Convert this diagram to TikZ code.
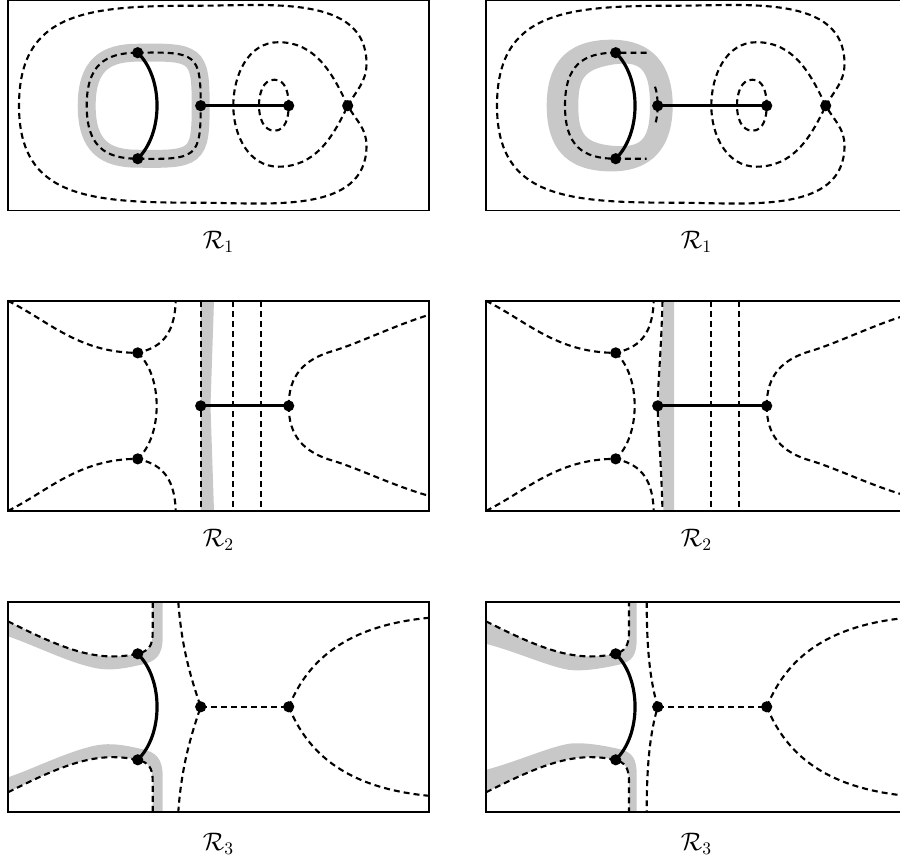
\documentclass[tikz,border=0pt]{standalone}
\usepackage{amsmath,amssymb}
\definecolor{bandgray}{RGB}{200,200,200}

\begin{document}
\begin{tikzpicture}[x=0.02cm,y=0.02cm,
  frame/.style={line width=0.8pt},
  crit/.style={line width=1.2pt,dash pattern=on 3.4pt off 2.3pt},
  edge/.style={line width=1.8pt},
  band/.style={draw=bandgray,line width=10.2pt},
  shade/.style={fill=bandgray},
  lab/.style={font=\fontsize{14.5}{17}\selectfont}]
\clip (0,0) rectangle (900,-863);

% row 1, left
\begin{scope}[shift={(218.5,-105.7)}]
\coordinate (l1a) at (-80.8,53);
\coordinate (l1b) at (-80.8,-53);
\coordinate (l1c) at (-17.8,0);
\coordinate (l1d) at (70.2,0);
\coordinate (l1e) at (129.2,0);
\draw[band] (l1a) .. controls (-22,54) and (-17.8,52) .. (l1c) .. controls (-17.8,-52) and (-22,-54) .. (l1b)
  .. controls (-114,-53) and (-131.8,-40) .. (-131.8,0) .. controls (-131.8,40) and (-114,53) .. cycle;
\draw[crit] (l1a) .. controls (-22,54) and (-17.8,52) .. (l1c) .. controls (-17.8,-52) and (-22,-54) .. (l1b)
  .. controls (-114,-53) and (-131.8,-40) .. (-131.8,0) .. controls (-131.8,40) and (-114,53) .. (l1a);
\draw[crit] (l1e) to[out=60,in=-90] (148,42) to[out=90,in=0] (-20,100)
  .. controls (-130,100) and (-199.5,95) .. (-199.5,0) .. controls (-199.5,-92) and (-130,-97) .. (-20,-97)
  to[out=0,in=-90] (148,-40) to[out=90,in=-60] (l1e);
\draw[crit] (l1e) to[out=115,in=0] (60,63.5) to[out=180,in=90] (14.8,0)
  to[out=-90,in=180] (60,-61) to[out=0,in=-115] (l1e);
\draw[crit] (l1d) to[out=90,in=0] (56,26) to[out=180,in=90] (40.5,0)
  to[out=-90,in=180] (56,-25) to[out=0,in=-90] (l1d);
\draw[edge] (l1a) .. controls (-55,28) and (-55,-28) .. (l1b);
\draw[edge] (l1c) -- (l1d);
\foreach \p in {l1a,l1b,l1c,l1d,l1e} \fill (\p) circle (5.6);
\draw[frame] (-210.5,-105) rectangle (210.5,105);
\node[lab] (l1lab) at (0,-136) {$\mathcal{R}_1$};
\end{scope}

% row 1, right
\begin{scope}[shift={(696.5,-105.7)}]
\coordinate (r1a) at (-80.8,53);
\coordinate (r1b) at (-80.8,-53);
\coordinate (r1c) at (-38.8,0);
\coordinate (r1d) at (70.2,0);
\coordinate (r1e) at (129.2,0);
\fill[bandgray,even odd rule] (-149.8,0) .. controls (-149.8,50) and (-122,66) .. (-85,66)
  .. controls (-45,66) and (-23.8,42) .. (-23.8,0) .. controls (-23.8,-42) and (-45,-65.7) .. (-85,-65.7)
  .. controls (-122,-65.7) and (-149.8,-50) .. (-149.8,0) -- cycle
  (-118.2,0) .. controls (-118.2,28) and (-112,36) .. (-85,41) .. controls (-58,45) and (-46.5,40) .. (-46.5,0)
  .. controls (-46.5,-38) and (-58,-42) .. (-85,-40) .. controls (-112,-37) and (-118.2,-28) .. (-118.2,0) -- cycle;
\draw[crit] (-50,53) -- (r1a) .. controls (-114,53) and (-131.5,40) .. (-131.5,0)
  .. controls (-131.5,-40) and (-114,-53) .. (r1b) -- (-50,-53);
\draw[crit] (-41.5,19) .. controls (-38,10) and (-38,-10) .. (-41.5,-19);
\draw[crit] (r1e) to[out=60,in=-90] (148,42) to[out=90,in=0] (-20,100)
  .. controls (-130,100) and (-199.5,95) .. (-199.5,0) .. controls (-199.5,-92) and (-130,-97) .. (-20,-97)
  to[out=0,in=-90] (148,-40) to[out=90,in=-60] (r1e);
\draw[crit] (r1e) to[out=115,in=0] (60,63.5) to[out=180,in=90] (14.8,0)
  to[out=-90,in=180] (60,-61) to[out=0,in=-115] (r1e);
\draw[crit] (r1d) to[out=90,in=0] (56,26) to[out=180,in=90] (40.5,0)
  to[out=-90,in=180] (56,-25) to[out=0,in=-90] (r1d);
\draw[edge] (r1a) .. controls (-55,28) and (-55,-28) .. (r1b);
\draw[edge] (r1c) -- (r1d);
\foreach \p in {r1a,r1b,r1c,r1d,r1e} \fill (\p) circle (5.6);
\draw[frame] (-210.5,-105) rectangle (210.5,105);
\node[lab] (r1lab) at (0,-136) {$\mathcal{R}_1$};
\end{scope}

% row 2, left
\begin{scope}[shift={(218.5,-405.85)}]
\coordinate (l2a) at (-80.8,53);
\coordinate (l2b) at (-80.8,-53);
\coordinate (l2c) at (-17.8,0);
\coordinate (l2d) at (70.2,0);
\fill[shade] (-17.8,105) -- (-17.8,-105) -- (-4.5,-105) -- (-8,0) -- (-4.5,105) -- cycle;
\draw[crit] (-210.5,105) .. controls (-170,85) and (-140,53) .. (l2a) .. controls (-60,58) and (-44,68) .. (-42.8,105);
\draw[crit] (-210.5,-105) .. controls (-170,-85) and (-140,-53) .. (l2b) .. controls (-60,-58) and (-44,-68) .. (-42.8,-105);
\draw[crit] (l2a) .. controls (-55.5,30) and (-55.5,-30) .. (l2b);
\draw[crit] (-17.8,105) -- (l2c) -- (-17.8,-105);
\draw[crit] (14.2,105) -- (14.2,-105);
\draw[crit] (42.2,105) -- (42.2,-105);
\draw[crit] (l2d) .. controls (70.2,30) and (85,46.5) .. (114.8,55) .. controls (140,62.5) and (175,80) .. (210.5,91);
\draw[crit] (l2d) .. controls (70.2,-30) and (85,-46.5) .. (114.8,-55) .. controls (140,-62.5) and (175,-80) .. (210.5,-90);
\draw[edge] (l2c) -- (l2d);
\foreach \p in {l2a,l2b,l2c,l2d} \fill (\p) circle (5.6);
\draw[frame] (-210.5,-105) rectangle (210.5,105);
\node[lab] (l2lab) at (0,-134) {$\mathcal{R}_2$};
\end{scope}

% row 2, right
\begin{scope}[shift={(696.5,-405.85)}]
\coordinate (r2a) at (-80.8,53);
\coordinate (r2b) at (-80.8,-53);
\coordinate (r2c) at (-38.8,0);
\coordinate (r2d) at (70.2,0);
\fill[shade] (-33,105) .. controls (-35,50) and (-37.5,20) .. (-37.5,0) .. controls (-37.5,-20) and (-35,-50) .. (-33,-105)
  -- (-22.5,-105) -- (-22.5,105) -- cycle;
\draw[crit] (-210.5,105) .. controls (-170,85) and (-140,53) .. (r2a) .. controls (-60,58) and (-44,68) .. (-42.8,105);
\draw[crit] (-210.5,-105) .. controls (-170,-85) and (-140,-53) .. (r2b) .. controls (-60,-58) and (-44,-68) .. (-42.8,-105);
\draw[crit] (r2a) .. controls (-55.5,30) and (-55.5,-30) .. (r2b);
\draw[crit] (-34,105) .. controls (-35.5,50) and (-38.8,20) .. (r2c) .. controls (-38.8,-20) and (-35.5,-50) .. (-34,-105);
\draw[crit] (14.5,105) -- (14.5,-105);
\draw[crit] (42.2,105) -- (42.2,-105);
\draw[crit] (r2d) .. controls (70.2,30) and (85,46.5) .. (114.8,55) .. controls (140,62.5) and (175,80) .. (210.5,91);
\draw[crit] (r2d) .. controls (70.2,-30) and (85,-46.5) .. (114.8,-55) .. controls (140,-62.5) and (175,-80) .. (210.5,-90);
\draw[edge] (r2c) -- (r2d);
\foreach \p in {r2a,r2b,r2c,r2d} \fill (\p) circle (5.6);
\draw[frame] (-210.5,-105) rectangle (210.5,105);
\node[lab] (r2lab) at (0,-134) {$\mathcal{R}_2$};
\end{scope}

% row 3, left
\begin{scope}[shift={(218.5,-706.8)}]
\coordinate (l3a) at (-80.8,53);
\coordinate (l3b) at (-80.8,-53);
\coordinate (l3c) at (-17.8,0);
\coordinate (l3d) at (70.2,0);
\fill[shade] (-210.5,85.5) .. controls (-150,55) and (-120,45) .. (l3a) .. controls (-70,56) and (-65.8,60) .. (-65.8,75)
  -- (-65.8,105) -- (-55.8,105) -- (-55.8,70) .. controls (-55.8,52) and (-62,45) .. (-78,42)
  .. controls (-95,38) and (-108,36) .. (-122,38.5) .. controls (-150,44) and (-185,62) .. (-210.5,70.5) -- cycle;
\fill[shade] (-210.5,-85.5) .. controls (-150,-55) and (-120,-45) .. (l3b) .. controls (-70,-56) and (-65.8,-60) .. (-65.8,-75)
  -- (-65.8,-105) -- (-55.8,-105) -- (-55.8,-70) .. controls (-55.8,-52) and (-62,-45) .. (-78,-42)
  .. controls (-95,-38) and (-108,-36) .. (-122,-38.5) .. controls (-150,-44) and (-185,-62) .. (-210.5,-70.5) -- cycle;
\draw[crit] (-210.5,85.5) .. controls (-150,55) and (-120,45) .. (l3a) .. controls (-70,56) and (-65.8,60) .. (-65.8,75) -- (-65.8,105);
\draw[crit] (-210.5,-85.5) .. controls (-150,-55) and (-120,-45) .. (l3b) .. controls (-70,-56) and (-65.8,-60) .. (-65.8,-75) -- (-65.8,-105);
\draw[crit] (-40.2,105) .. controls (-37,60) and (-28,30) .. (l3c) .. controls (-28,-30) and (-37,-60) .. (-40.2,-105);
\draw[crit] (l3c) -- (l3d);
\draw[crit] (l3d) .. controls (85,35) and (115,80) .. (210.5,89);
\draw[crit] (l3d) .. controls (85,-35) and (115,-80) .. (210.5,-89);
\draw[edge] (l3a) .. controls (-55,28) and (-55,-28) .. (l3b);
\foreach \p in {l3a,l3b,l3c,l3d} \fill (\p) circle (5.6);
\draw[frame] (-210.5,-105) rectangle (210.5,105);
\node[lab] (l3lab) at (0,-137) {$\mathcal{R}_3$};
\end{scope}

% row 3, right
\begin{scope}[shift={(696.5,-706.8)}]
\coordinate (r3a) at (-80.8,53);
\coordinate (r3b) at (-80.8,-53);
\coordinate (r3c) at (-38.8,0);
\coordinate (r3d) at (70.2,0);
\fill[shade] (-210.5,85.5) .. controls (-150,55) and (-120,45) .. (r3a) .. controls (-72,56) and (-67.5,60) .. (-67.5,75)
  -- (-67.5,105) -- (-59.8,105) -- (-59.8,68) .. controls (-59.8,52) and (-64,45) .. (-78,42)
  .. controls (-92,39) and (-112,35) .. (-128,37) .. controls (-150,41) and (-180,55) .. (-210.5,63) -- cycle;
\fill[shade] (-210.5,-85.5) .. controls (-150,-55) and (-120,-45) .. (r3b) .. controls (-72,-56) and (-67.5,-60) .. (-67.5,-75)
  -- (-67.5,-105) -- (-59.8,-105) -- (-59.8,-68) .. controls (-59.8,-52) and (-64,-45) .. (-78,-42)
  .. controls (-92,-39) and (-112,-35) .. (-128,-37) .. controls (-150,-41) and (-180,-55) .. (-210.5,-63) -- cycle;
\draw[crit] (-210.5,85.5) .. controls (-150,55) and (-120,45) .. (r3a) .. controls (-72,56) and (-67.5,60) .. (-67.5,75) -- (-67.5,105);
\draw[crit] (-210.5,-85.5) .. controls (-150,-55) and (-120,-45) .. (r3b) .. controls (-72,-56) and (-67.5,-60) .. (-67.5,-75) -- (-67.5,-105);
\draw[crit] (-49.8,105) .. controls (-49.8,55) and (-46,25) .. (r3c) .. controls (-46,-25) and (-49.8,-55) .. (-49.8,-105);
\draw[crit] (r3c) -- (r3d);
\draw[crit] (r3d) .. controls (85,35) and (115,80) .. (210.5,89);
\draw[crit] (r3d) .. controls (85,-35) and (115,-80) .. (210.5,-89);
\draw[edge] (r3a) .. controls (-55,28) and (-55,-28) .. (r3b);
\foreach \p in {r3a,r3b,r3c,r3d} \fill (\p) circle (5.6);
\draw[frame] (-210.5,-105) rectangle (210.5,105);
\node[lab] (r3lab) at (0,-137) {$\mathcal{R}_3$};
\end{scope}
\end{tikzpicture}
\end{document}
